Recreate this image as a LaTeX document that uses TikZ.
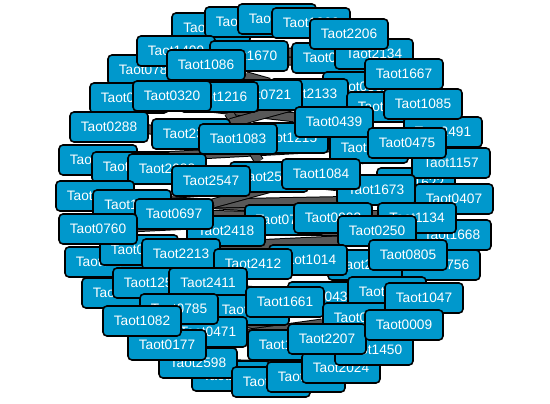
\documentclass[tikz,border=0pt]{standalone}
\usepackage{fontspec}
\setmainfont{Liberation Sans}
\usepackage{tikz}
\usetikzlibrary{arrows.meta}
\definecolor{taotblue}{RGB}{0,152,204}
\definecolor{linkgray}{RGB}{88,88,88}
\pgfdeclarelayer{background}
\pgfsetlayers{background,main}

\begin{document}
\begin{tikzpicture}[x=1pt, y=-1pt]
\tikzstyle{gene} = [shape=rectangle, rounded corners=4pt, draw=black, fill=taotblue, line width=1.6pt, text=white, minimum width=78pt, minimum height=30pt, inner sep=0pt, font=\fontsize{13.7}{16}\selectfont];
\tikzstyle{link} = [draw=black, line width=1pt, double=linkgray, double distance=8pt];

\useasboundingbox (0,0) rectangle (550,404);

% top
\node[gene](T0118) at (211,28) {Taot0118};
\node[gene](T1921) at (244,22) {Taot1921};
\node[gene](T0530) at (277,19) {Taot0530};
\node[gene](T1362) at (311,23) {Taot1362};
\node[gene](T0783) at (147,70) {Taot0783};
\node[gene](T1409) at (176,51) {Taot1409};
\node[gene](T1670) at (249,56) {Taot1670};
\node[gene](T1086) at (206,65) {Taot1086};
\node[gene](T0617) at (331,58) {Taot0617};
\node[gene](T2134) at (374,54) {Taot2134};
\node[gene](T2206) at (349,34) {Taot2206};
\node[gene](T0562) at (362,87) {Taot0562};
\node[gene](T1667) at (404,74) {Taot1667};
\node[gene](T2133) at (309,94) {Taot2133};
\node[gene](T0721) at (263,95) {Taot0721};
\node[gene](T1216) at (219,97) {Taot1216};
\node[gene](T0046) at (129,98) {Taot0046};
\node[gene](T0320) at (172,96) {Taot0320};
\node[gene](T0288) at (109,127) {Taot0288};
\node[gene](T2302) at (191,134) {Taot2302};
\node[gene](T1215) at (289,138) {Taot1215};
\node[gene](T2219) at (386,107) {Taot2219};
\node[gene](T1312) at (369,148) {Taot1312};
\node[gene](T0439) at (334,122) {Taot0439};
\node[gene](T1083) at (238,139) {Taot1083};
\node[gene](T2491) at (443,132) {Taot2491};
\node[gene](T1085) at (423,104) {Taot1085};
\node[gene](T1622) at (416,183) {Taot1622};
\node[gene](T1157) at (451,163) {Taot1157};
\node[gene](T0475) at (407,143) {Taot0475};
\node[gene](T1673) at (376,190) {Taot1673};
\node[gene](T2594) at (269,177) {Taot2594};
\node[gene](T1084) at (321,174) {Taot1084};

% middle
\node[gene](T0061) at (98,160) {Taot0061};
\node[gene](T1449) at (131,167) {Taot1449};
\node[gene](T2088) at (167,169) {Taot2088};
\node[gene](T2547) at (211,181) {Taot2547};
\node[gene](T0294) at (95,196) {Taot0294};
\node[gene](T1138) at (132,205) {Taot1138};
\node[gene](T0752) at (284,220) {Taot0752};
\node[gene](T2418) at (226,231) {Taot2418};
\node[gene](T0697) at (174,214) {Taot0697};
\node[gene](T0787) at (104,262) {Taot0787};
\node[gene](T0134) at (139,250) {Taot0134};
\node[gene](T0760) at (98,229) {Taot0760};
\node[gene](T2213) at (181,254) {Taot2213};
\node[gene](T0903) at (333,218) {Taot0903};
\node[gene](T0407) at (454,199) {Taot0407};
\node[gene](T1668) at (452,235) {Taot1668};
\node[gene](T1134) at (417,218) {Taot1134};
\node[gene](T0250) at (377,231) {Taot0250};
\node[gene](T2631) at (367,265) {Taot2631};
\node[gene](T0756) at (441,265) {Taot0756};
\node[gene](T0805) at (408,255) {Taot0805};
\node[gene](T1014) at (308,260) {Taot1014};
\node[gene](T2412) at (253,264) {Taot2412};

% bottom
\node[gene](T0539) at (121,293) {Taot0539};
\node[gene](T1256) at (152,283) {Taot1256};
\node[gene](T2411) at (208,283) {Taot2411};
\node[gene](T1377) at (250,310) {Taot1377};
\node[gene](T0471) at (208,332) {Taot0471};
\node[gene](T2070) at (231,376) {Taot2070};
\node[gene](T2598) at (198,363) {Taot2598};
\node[gene](T0177) at (167,345) {Taot0177};
\node[gene](T0785) at (179,309) {Taot0785};
\node[gene](T1082) at (142,321) {Taot1082};
\node[gene](T0436) at (327,297) {Taot0436};
\node[gene](T1661) at (285,302) {Taot1661};
\node[gene](T2653) at (387,292) {Taot2653};
\node[gene](T0038) at (362,318) {Taot0038};
\node[gene](T1047) at (424,298) {Taot1047};
\node[gene](T1788) at (287,345) {Taot1788};
\node[gene](T0312) at (271,382) {Taot0312};
\node[gene](T1593) at (306,377) {Taot1593};
\node[gene](T2024) at (341,368) {Taot2024};
\node[gene](T1450) at (374,350) {Taot1450};
\node[gene](T2207) at (327,339) {Taot2207};
\node[gene](T0009) at (404,325) {Taot0009};

\begin{pgfonlayer}{background}
\foreach \a/\b in {T1086/T2133, T0320/T0721, T0288/T1215, T1083/T0439,
    T2302/T1312, T2088/T1673, T2547/T1084, T0697/T0903, T0760/T0752,
    T2418/T0250, T2213/T1014, T2412/T0805, T2411/T1661, T1661/T1047,
    T0785/T2207, T0177/T0038, T1082/T1788, T0475/T1084, T0046/T0439,
    T0061/T0475, T1449/T1622, T0294/T1134, T1138/T0407, T0134/T1668,
    T0787/T0756, T0539/T2653, T1256/T0436, T0783/T0617, T1409/T2134,
    T1216/T2594, T2598/T2024, T2302/T0562, T0697/T1084}
  \draw[link] (\a) -- (\b);
\end{pgfonlayer}
\end{tikzpicture}
\end{document}
